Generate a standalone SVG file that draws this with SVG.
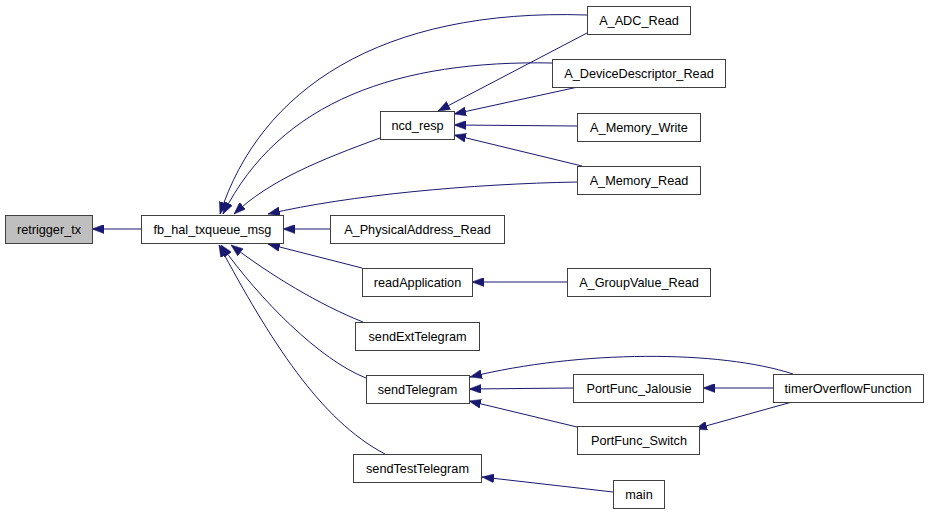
<svg xmlns="http://www.w3.org/2000/svg" width="928" height="515" viewBox="0 0 928 515">
<defs>
<style>
.n rect{fill:#ffffff;stroke:#404040;stroke-width:1}
.n text{font-family:"Liberation Sans",Arial,sans-serif;font-size:12.7px;fill:#000;text-anchor:middle}
#retrigger_tx rect{fill:#bfbfbf}
.e path{fill:none;stroke:#191970;stroke-width:1;marker-end:url(#ah)}
</style>
<marker id="ah" viewBox="0 0 12 9" refX="12" refY="4.5" markerWidth="12" markerHeight="9" orient="auto" markerUnits="userSpaceOnUse">
<path d="M0,0 L12,4.5 L0,9 z" fill="#191970" stroke="#191970" stroke-width="0.5"/>
</marker>
</defs>
<rect width="928" height="515" fill="#ffffff"/>
<g id="edges" class="e">
<path d="M141,229 L92,229"/>
<path d="M587,15 C380,8 260,90 220,214"/>
<path d="M552,63 C400,60 280,100 223,214"/>
<path d="M380,138 C320,160 270,180 234,214"/>
<path d="M577,182 C470,184 350,195 268,214"/>
<path d="M587,33 L438,111"/>
<path d="M578,87 L454,114"/>
<path d="M577,126 L454,125"/>
<path d="M582,166 L454,135"/>
<path d="M330,229 L283,229"/>
<path d="M362,268 L268,244"/>
<path d="M567,282 L472,282"/>
<path d="M363,322 C320,305 270,275 231,245"/>
<path d="M366,378 C320,360 260,300 221,245"/>
<path d="M385,454 C320,420 270,340 219,245"/>
<path d="M793,374 C720,350 580,350 470,377"/>
<path d="M573,388 L469,389"/>
<path d="M577,427 L469,401"/>
<path d="M773,388 L703,388"/>
<path d="M792,402 L695,429"/>
<path d="M613,492 L482,477"/>
</g>
<g id="retrigger_tx" class="n"><rect x="5.5" y="215.5" width="87" height="28"/><text x="49" y="234">retrigger_tx</text></g>
<g id="fb_hal_txqueue_msg" class="n"><rect x="141.5" y="215.5" width="142" height="28"/><text x="212.5" y="234">fb_hal_txqueue_msg</text></g>
<g id="ncd_resp" class="n"><rect x="380.5" y="111.5" width="74" height="28"/><text x="417.5" y="130">ncd_resp</text></g>
<g id="A_ADC_Read" class="n"><rect x="587.5" y="6.5" width="103" height="28"/><text x="639" y="25">A_ADC_Read</text></g>
<g id="A_DeviceDescriptor_Read" class="n"><rect x="552.5" y="59.5" width="173" height="28"/><text x="639" y="78">A_DeviceDescriptor_Read</text></g>
<g id="A_Memory_Write" class="n"><rect x="577.5" y="113.5" width="123" height="28"/><text x="639" y="132">A_Memory_Write</text></g>
<g id="A_Memory_Read" class="n"><rect x="577.5" y="166.5" width="123" height="28"/><text x="639" y="185">A_Memory_Read</text></g>
<g id="A_PhysicalAddress_Read" class="n"><rect x="330.5" y="215.5" width="174" height="28"/><text x="417.5" y="234">A_PhysicalAddress_Read</text></g>
<g id="readApplication" class="n"><rect x="362.5" y="268.5" width="110" height="28"/><text x="417.5" y="287">readApplication</text></g>
<g id="A_GroupValue_Read" class="n"><rect x="567.5" y="268.5" width="143" height="28"/><text x="639" y="287">A_GroupValue_Read</text></g>
<g id="sendExtTelegram" class="n"><rect x="355.5" y="322.5" width="124" height="28"/><text x="417.5" y="341">sendExtTelegram</text></g>
<g id="sendTelegram" class="n"><rect x="366.5" y="375.5" width="103" height="28"/><text x="417.5" y="394">sendTelegram</text></g>
<g id="sendTestTelegram" class="n"><rect x="353.5" y="454.5" width="128" height="28"/><text x="417.5" y="473">sendTestTelegram</text></g>
<g id="PortFunc_Jalousie" class="n"><rect x="573.5" y="374.5" width="130" height="28"/><text x="639" y="393">PortFunc_Jalousie</text></g>
<g id="timerOverflowFunction" class="n"><rect x="773.5" y="374.5" width="150" height="28"/><text x="848" y="393">timerOverflowFunction</text></g>
<g id="PortFunc_Switch" class="n"><rect x="577.5" y="426.5" width="122" height="28"/><text x="639" y="445">PortFunc_Switch</text></g>
<g id="main" class="n"><rect x="613.5" y="480.5" width="51" height="28"/><text x="639" y="499">main</text></g>
</svg>
